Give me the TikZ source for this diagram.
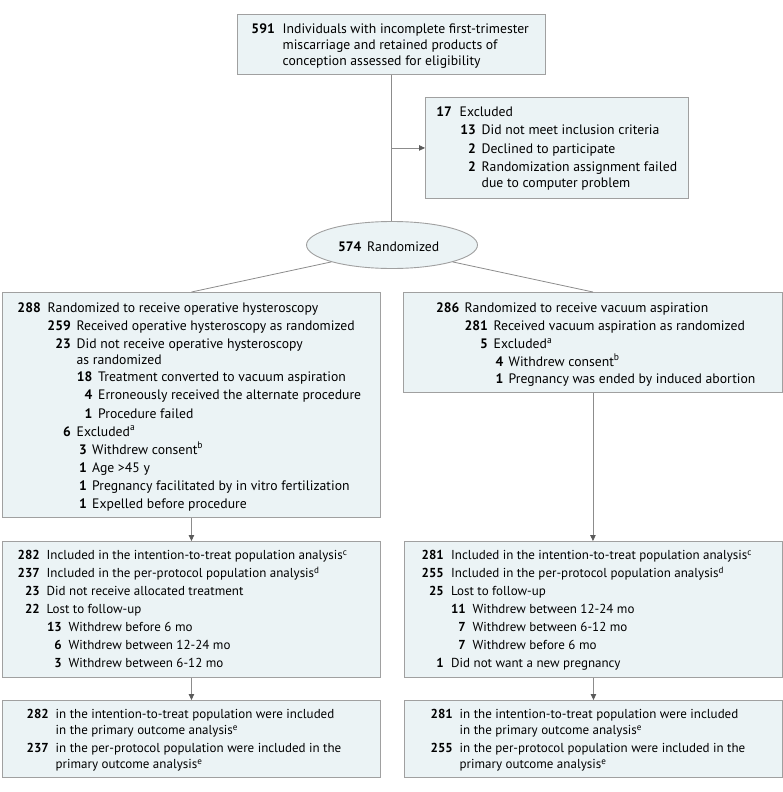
\documentclass[tikz,border=0pt]{standalone}
\usepackage{fontspec}
\setmainfont{PT Sans}
\usetikzlibrary{shapes.geometric,arrows.meta}
\definecolor{boxfill}{RGB}{235,243,245}
\definecolor{boxline}{RGB}{160,160,160}
\definecolor{conn}{RGB}{140,140,140}
\definecolor{tip}{RGB}{90,90,90}
\newcommand\fsz{13.7}
\newcommand\Ln[6]{\node[num] (#1n) at (#2,#4) {#5}; \node[txt] (#1t) at (#3,#4) {#6};}
\newcommand\Lc[4]{\node[txt] (#1) at (#2,#3) {#4};}
\tikzset{
  box/.style={draw=boxline, fill=boxfill, line width=0.9pt, rectangle, inner sep=0pt, anchor=north west},
  num/.style={anchor=base east, inner sep=0pt, font=\fontsize{\fsz}{15}\selectfont\bfseries},
  txt/.style={anchor=base west, inner sep=0pt, font=\fontsize{\fsz}{15}\selectfont},
  conn/.style={draw=conn, line width=0.8pt},
  arr/.style={conn, -{Triangle[length=6pt,width=5.5pt,fill=tip,color=tip]}}
}
\begin{document}
\begin{tikzpicture}[x=1pt,y=-1pt]
\useasboundingbox (0,0) rectangle (783,792);
% boxes
\node[box, minimum width=308pt, minimum height=60pt] (top) at (237,14) {};
\node[box, minimum width=263pt, minimum height=101pt] (excl) at (425,97) {};
\node[draw=boxline, fill=boxfill, line width=0.9pt, ellipse, minimum width=171pt, minimum height=47pt, inner sep=0pt] (rand) at (392,245) {};
\node[box, minimum width=378pt, minimum height=225pt] (left) at (2,292) {};
\node[box, minimum width=379pt, minimum height=100pt] (right) at (403,292) {};
\node[box, minimum width=378pt, minimum height=136pt] (midL) at (2,541) {};
\node[box, minimum width=378pt, minimum height=136pt] (midR) at (404,541) {};
\node[box, minimum width=378pt, minimum height=77pt] (botL) at (2,700) {};
\node[box, minimum width=378pt, minimum height=77pt] (botR) at (404,700) {};
% connectors
\draw[conn] (top.south) -- (top.south |- rand.north);
\draw[arr] (top.south |- excl.west) -- (excl.west);
\draw[conn] (rand.south west) -- (left.north);
\draw[conn] (rand.south east) -- (right.north);
\draw[arr] (left.south) -- (midL.north);
\draw[arr] (right.south) -- (right.south |- midR.north);
\draw[arr] (midL.south) -- (botL.north);
\draw[arr] (midR.south) -- (botR.north);
% top text
\Ln{a1}{275}{282.5}{34}{591}{Individuals with incomplete first-trimester}
\Lc{a2}{282.5}{50}{miscarriage and retained products of}
\Lc{a3}{282.5}{66}{conception assessed for eligibility}
% excluded
\Ln{b1}{452}{459.5}{116}{17}{Excluded}
\Ln{b2}{476}{481.5}{134.5}{13}{Did not meet inclusion criteria}
\Ln{b3}{476}{481.5}{153}{2}{Declined to participate}
\Ln{b4}{476}{481.5}{171}{2}{Randomization assignment failed}
\Lc{b5}{481.5}{187}{due to computer problem}
% randomized
\Ln{r1}{361.5}{367}{251}{574}{Randomized}
% left box
\Ln{c1}{41}{47.5}{312}{288}{Randomized to receive operative hysteroscopy}
\Ln{c2}{71}{76.5}{330}{259}{Received operative hysteroscopy as randomized}
\Ln{c3}{71}{76.5}{348.5}{23}{Did not receive operative hysteroscopy}
\Lc{c4}{76.5}{364}{as randomized}
\Ln{c5}{92.5}{98}{381}{18}{Treatment converted to vacuum aspiration}
\Ln{c6}{92.5}{98}{399}{4}{Erroneously received the alternate procedure}
\Ln{c7}{92.5}{98}{418}{1}{Procedure failed}
\Ln{c8}{71}{76.5}{436}{6}{Excluded\textsuperscript{a}}
\Ln{c9}{87}{92}{454}{3}{Withdrew consent\textsuperscript{b}}
\Ln{c10}{87}{92}{472}{1}{Age >45 y}
\Ln{c11}{87}{92}{490}{1}{Pregnancy facilitated by in vitro fertilization}
\Ln{c12}{87}{92}{508}{1}{Expelled before procedure}
% right box
\Ln{d1}{459.5}{464.5}{312}{286}{Randomized to receive vacuum aspiration}
\Ln{d2}{488}{493.5}{330}{281}{Received vacuum aspiration as randomized}
\Ln{d3}{488}{493.5}{348.5}{5}{Excluded\textsuperscript{a}}
\Ln{d4}{503.5}{508.5}{366}{4}{Withdrew consent\textsuperscript{b}}
\Ln{d5}{503.5}{508.5}{383.5}{1}{Pregnancy was ended by induced abortion}
\renewcommand\fsz{13}
% middle left
\Ln{e1}{40}{46.5}{559.5}{282}{Included in the intention-to-treat population analysis\textsuperscript{c}}
\Ln{e2}{40}{46.5}{577.5}{237}{Included in the per-protocol population analysis\textsuperscript{d}}
\Ln{e3}{40}{46.5}{595.5}{23}{Did not receive allocated treatment}
\Ln{e4}{40}{46.5}{613.5}{22}{Lost to follow-up}
\Ln{e5}{62}{68.5}{631.5}{13}{Withdrew before 6 mo}
\Ln{e6}{62}{68.5}{649.5}{6}{Withdrew between 12-24 mo}
\Ln{e7}{62}{68.5}{667.5}{3}{Withdrew between 6-12 mo}
% middle right
\Ln{f1}{444}{451}{559.5}{281}{Included in the intention-to-treat population analysis\textsuperscript{c}}
\Ln{f2}{444}{451}{577.5}{255}{Included in the per-protocol population analysis\textsuperscript{d}}
\Ln{f3}{444}{451}{595.5}{25}{Lost to follow-up}
\Ln{f4}{466}{472.5}{613.5}{11}{Withdrew between 12-24 mo}
\Ln{f5}{466}{472.5}{631.5}{7}{Withdrew between 6-12 mo}
\Ln{f6}{466}{472.5}{649.5}{7}{Withdrew before 6 mo}
\Ln{f7}{444}{451}{667.5}{1}{Did not want a new pregnancy}
% bottom left
\Ln{g1}{49}{55.5}{718.5}{282}{in the intention-to-treat population were included}
\Lc{g2}{55.5}{734.5}{in the primary outcome analysis\textsuperscript{e}}
\Ln{g3}{49}{55.5}{752.5}{237}{in the per-protocol population were included in the}
\Lc{g4}{55.5}{768.5}{primary outcome analysis\textsuperscript{e}}
% bottom right
\Ln{h1}{453}{459.5}{718.5}{281}{in the intention-to-treat population were included}
\Lc{h2}{459.5}{734.5}{in the primary outcome analysis\textsuperscript{e}}
\Ln{h3}{453}{459.5}{752.5}{255}{in the per-protocol population were included in the}
\Lc{h4}{459.5}{768.5}{primary outcome analysis\textsuperscript{e}}
\end{tikzpicture}
\end{document}
